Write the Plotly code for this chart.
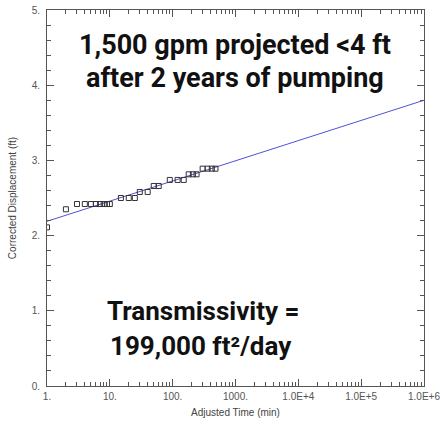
import plotly.graph_objects as go

# Observed data (adjusted time in minutes, corrected displacement in ft)
time_min = [1, 2, 3, 4, 5, 6, 7, 8, 9, 10, 15, 20, 25, 30, 40, 50, 60,
            90, 120, 150, 180, 210, 240, 300, 360, 420, 480]
displacement_ft = [2.11, 2.35, 2.42, 2.42, 2.42, 2.42, 2.42, 2.42, 2.42, 2.42,
                   2.50, 2.50, 2.50, 2.58, 2.58, 2.66, 2.66,
                   2.74, 2.74, 2.74, 2.815, 2.815, 2.815, 2.89, 2.89, 2.89, 2.89]

# Straight-line fit (Cooper-Jacob)
fit_time = [1, 1e6]
fit_disp = [2.19, 3.80]

x_tickvals = [1, 10, 100, 1000, 1e4, 1e5, 1e6]
x_ticktext = ["1.", "10.", "100.", "1000.", "1.0E+4", "1.0E+5", "1.0E+6"]
y_tickvals = [0, 1, 2, 3, 4, 5]
y_ticktext = ["0.", "1.", "2.", "3.", "4.", "5."]

fig = go.Figure()
fig.add_trace(go.Scatter(x=fit_time, y=fit_disp, mode="lines",
                         line=dict(color="#5050d8", width=1), showlegend=False))
fig.add_trace(go.Scatter(x=time_min, y=displacement_ft, mode="markers",
                         marker=dict(symbol="square-open", size=5, color="#333333",
                                     line=dict(width=1, color="#333333")),
                         showlegend=False))

axis_common = dict(showline=True, linecolor="#555555", linewidth=1, mirror="ticks",
                   ticks="inside", ticklen=7, tickcolor="#555555", showgrid=False,
                   zeroline=False, automargin=False, ticklabeloverflow="allow",
                   tickfont=dict(family="Liberation Sans, Arial", size=10, color="#555555"))

fig.update_xaxes(type="log", range=[0, 6], tickvals=x_tickvals, ticktext=x_ticktext,
                 minor=dict(ticks="inside", ticklen=4, tickcolor="#555555", dtick="D1",
                            showgrid=False),
                 ticklabelstandoff=1,
                 title=dict(text="Adjusted Time (min)", standoff=7,
                            font=dict(family="Liberation Sans, Arial", size=10, color="#444444")),
                 **axis_common)
fig.update_yaxes(range=[0, 5], tickvals=y_tickvals, ticktext=y_ticktext,
                 minor=dict(ticks="inside", ticklen=4, tickcolor="#555555", dtick=0.2,
                            showgrid=False),
                 ticklabelstandoff=4,
                 title=dict(text="Corrected Displacement (ft)", standoff=13,
                            font=dict(family="Liberation Sans, Arial", size=10, color="#444444")),
                 **axis_common)

annotations = [
    ("1,500 gpm projected <4 ft", 0.498, 0.908, 27),
    ("after 2 years of pumping", 0.498, 0.818, 27),
    ("Transmissivity =", 0.414, 0.199, 26),
    ("199,000 ft²/day", 0.408, 0.106, 26),
]
for text, ax, ay, fs in annotations:
    fig.add_annotation(text=text, x=ax, y=ay, xref="paper", yref="paper",
                       xanchor="center", yanchor="middle", showarrow=False,
                       font=dict(family="Roboto", size=fs, color="#111111", weight=700))

fig.update_layout(width=440, height=426, margin=dict(l=47, r=16, t=10, b=40),
                  paper_bgcolor="white", plot_bgcolor="white")

fig.write_html("out.html", config={"displayModeBar": False},
               post_script="document.body.style.margin='0';document.body.style.overflow='hidden';")
